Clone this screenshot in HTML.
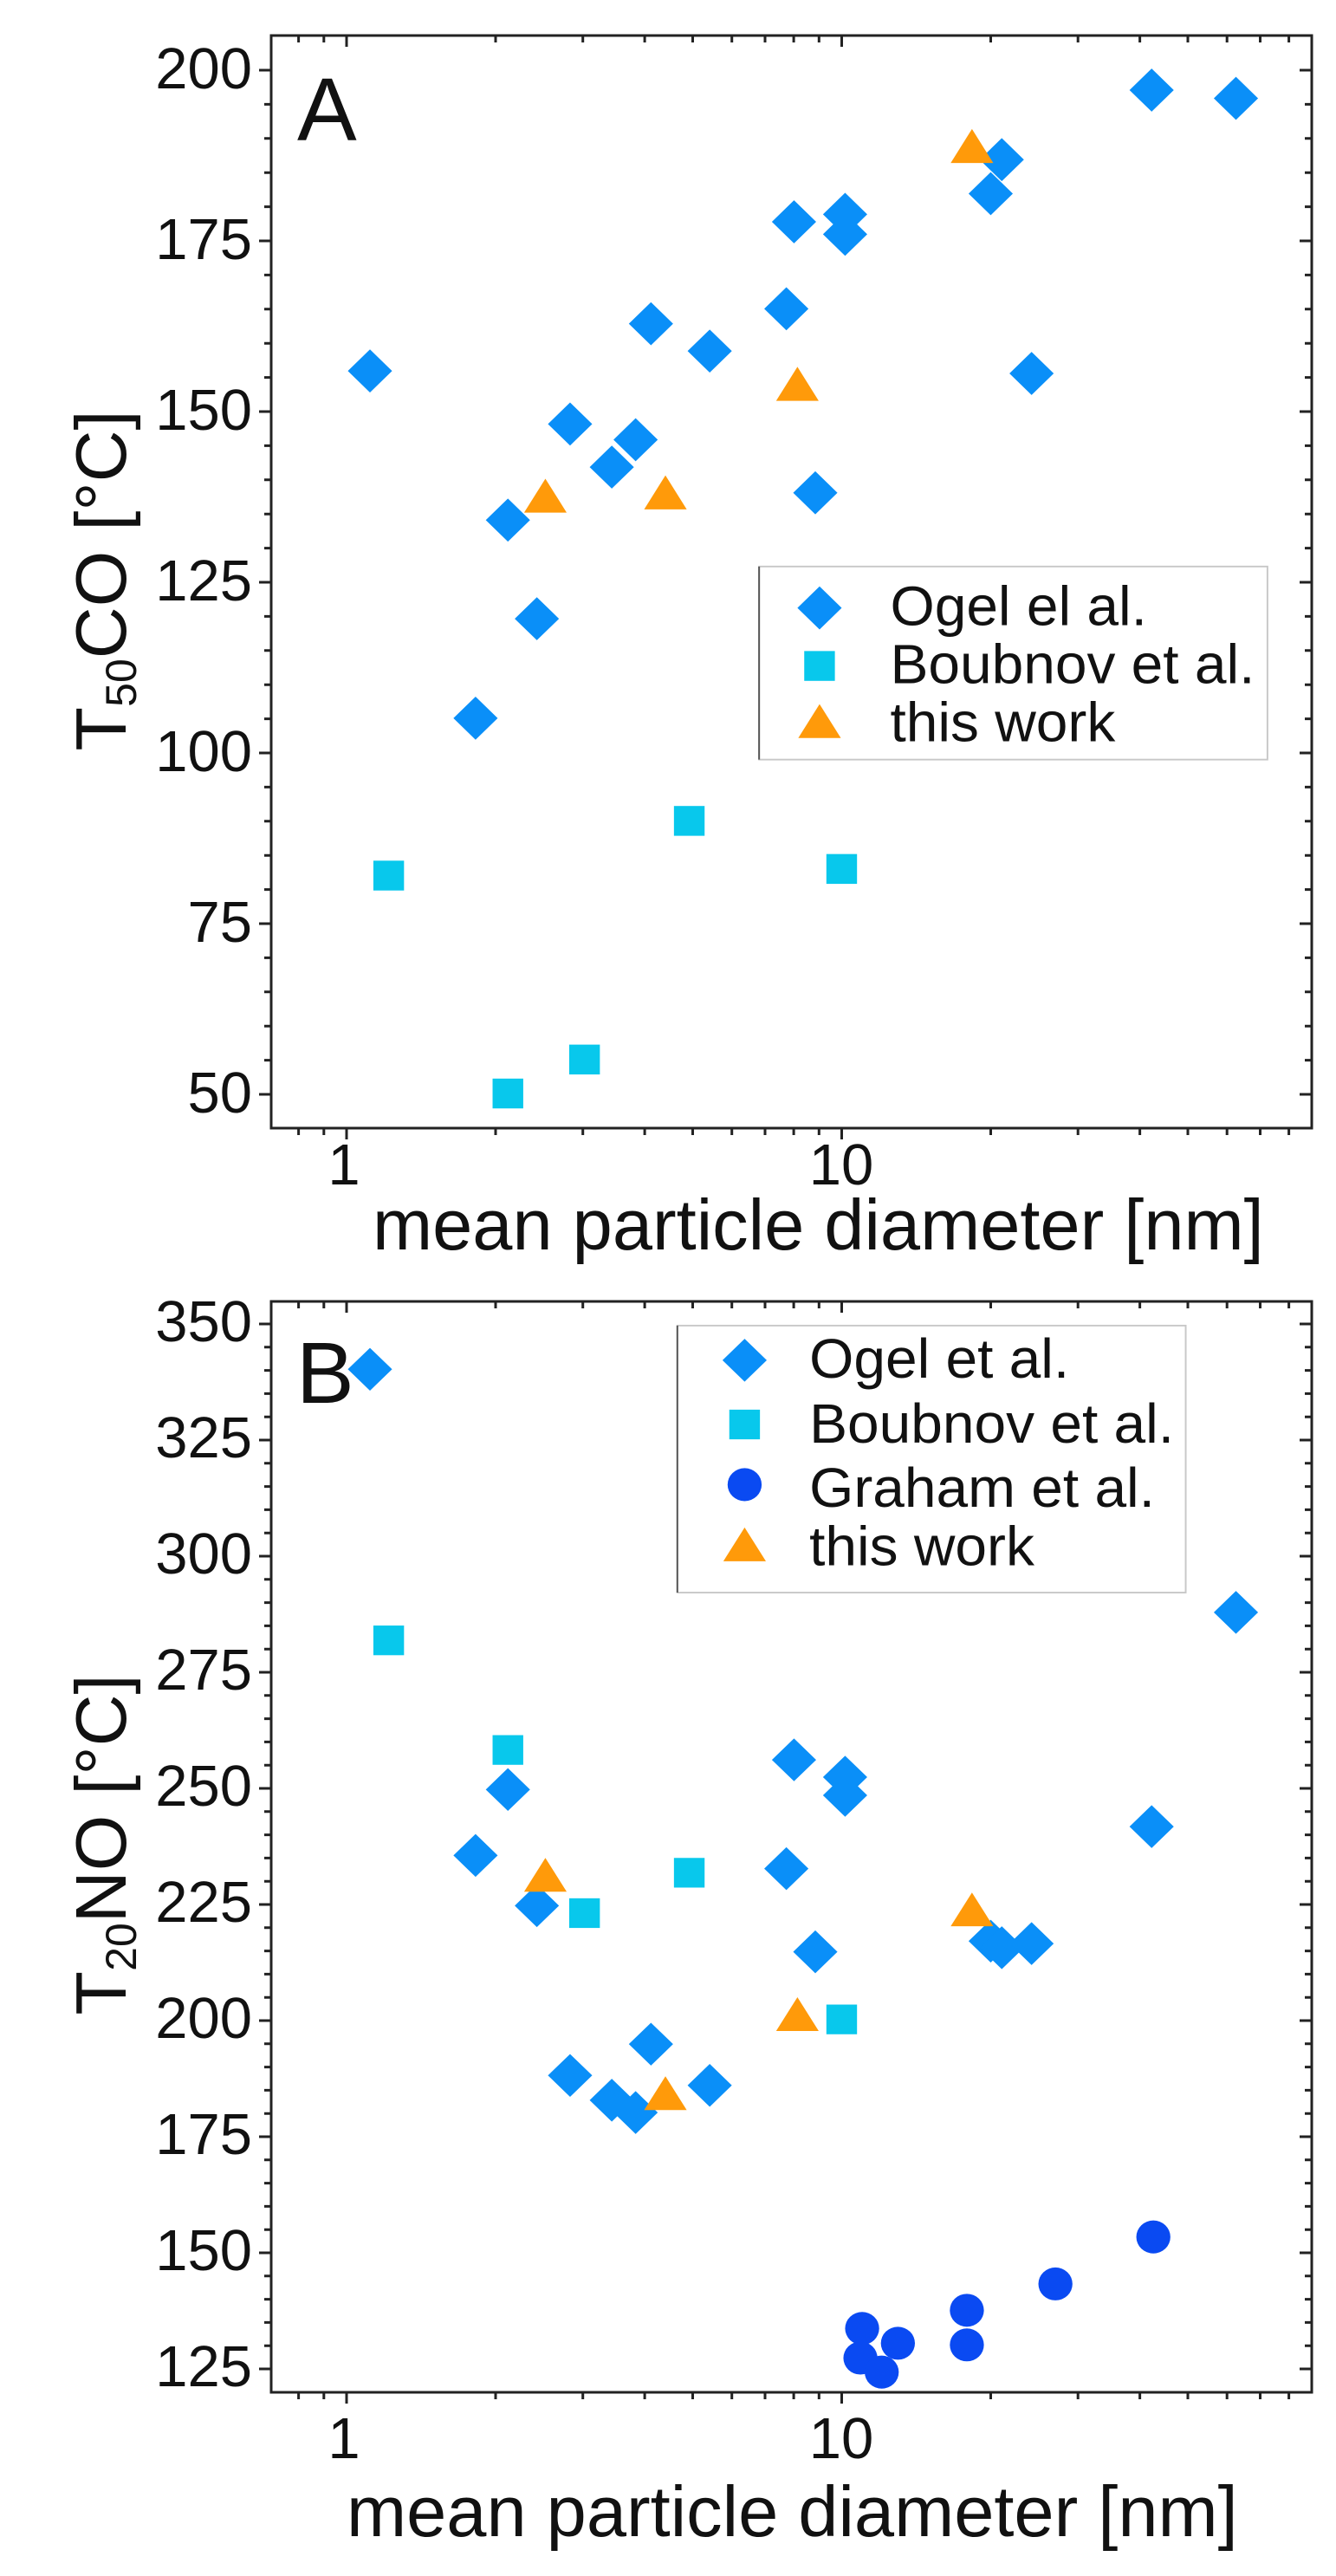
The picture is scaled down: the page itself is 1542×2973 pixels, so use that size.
<!DOCTYPE html>
<html><head><meta charset="utf-8"><style>html,body{margin:0;padding:0;background:#fff}svg{display:block}</style></head>
<body>
<svg xmlns="http://www.w3.org/2000/svg" width="1542" height="2973" viewBox="0 0 1542 2973" font-family="Liberation Sans, Arial, sans-serif">
<defs>
<path id="dm" d="M0,-26 L26,0 L0,26 L-26,0 Z" fill="#0a8ff8"/>
<rect id="sq" x="-18" y="-18" width="36" height="36" fill="#08c8ec"/>
<path id="tr" d="M0,-23 L25,18 L-25,18 Z" fill="#ff9a0a"/>
<circle id="ci" r="20" fill="#0a4af2"/>
</defs>

<!-- ===== Panel A ===== -->
<rect x="313" y="41" width="1201" height="1261" fill="none" stroke="#222" stroke-width="3"/>
<g stroke="#222" stroke-width="3" fill="none">
<path d="M313 81h-14m14 197h-14m14 197h-14m14 197h-14m14 197h-14m14 197h-14m14 197h-14"/>
<path d="M313 120.4h-8m8 39.4h-8m8 39.4h-8m8 39.4h-8m8 78.8h-8m8 39.4h-8m8 39.4h-8m8 39.4h-8m8 78.8h-8m8 39.4h-8m8 39.4h-8m8 39.4h-8m8 78.8h-8m8 39.4h-8m8 39.4h-8m8 39.4h-8m8 78.8h-8m8 39.4h-8m8 39.4h-8m8 39.4h-8m8 78.8h-8m8 39.4h-8m8 39.4h-8m8 39.4h-8"/>
<path d="M1514 81h-14m14 197h-14m14 197h-14m14 197h-14m14 197h-14m14 197h-14m14 197h-14"/>
<path d="M1514 120.4h-8m8 39.4h-8m8 39.4h-8m8 39.4h-8m8 78.8h-8m8 39.4h-8m8 39.4h-8m8 39.4h-8m8 78.8h-8m8 39.4h-8m8 39.4h-8m8 39.4h-8m8 78.8h-8m8 39.4h-8m8 39.4h-8m8 39.4h-8m8 78.8h-8m8 39.4h-8m8 39.4h-8m8 39.4h-8m8 78.8h-8m8 39.4h-8m8 39.4h-8m8 39.4h-8"/>
<path d="M400 1302v13M971.5 1302v13M400 41v13M971.5 41v13"/>
<path d="M344.6 1302v8M373.8 1302v8M572 1302v8M672.7 1302v8M744.1 1302v8M799.5 1302v8M844.7 1302v8M883 1302v8M916.1 1302v8M945.3 1302v8M1143.5 1302v8M1244.2 1302v8M1315.6 1302v8M1371 1302v8M1416.2 1302v8M1454.5 1302v8M1487.6 1302v8"/>
<path d="M344.6 41v8M373.8 41v8M572 41v8M672.7 41v8M744.1 41v8M799.5 41v8M844.7 41v8M883 41v8M916.1 41v8M945.3 41v8M1143.5 41v8M1244.2 41v8M1315.6 41v8M1371 41v8M1416.2 41v8M1454.5 41v8M1487.6 41v8"/>
</g>
<g font-size="67" text-anchor="end" fill="#111">
<text x="291" y="102">200</text><text x="291" y="299">175</text><text x="291" y="496">150</text><text x="291" y="693">125</text><text x="291" y="890">100</text><text x="291" y="1087">75</text><text x="291" y="1284">50</text>
</g>
<g font-size="67" text-anchor="middle" fill="#111">
<text x="397" y="1367">1</text><text x="971" y="1367">10</text>
</g>
<text x="430" y="1442" font-size="83" fill="#111">mean particle diameter [nm]</text>
<text transform="translate(145,670) rotate(-90)" text-anchor="middle" font-size="83" fill="#111">T<tspan font-size="50" dy="12">50</tspan><tspan dy="-12">CO [°C]</tspan></text>
<text x="343" y="162" font-size="103" fill="#111">A</text>

<g transform="matrix(0.9828,0,0,0.9563,2.44,0.67)">
<use href="#dm" x="432" y="447"/><use href="#dm" x="556" y="866"/><use href="#dm" x="594" y="627"/><use href="#dm" x="628" y="746"/><use href="#dm" x="667" y="511"/><use href="#dm" x="716" y="563"/><use href="#dm" x="744" y="530"/><use href="#dm" x="762" y="390"/><use href="#dm" x="831" y="423"/><use href="#dm" x="921" y="372"/><use href="#dm" x="930" y="267"/><use href="#dm" x="955" y="594"/><use href="#dm" x="990" y="258"/><use href="#dm" x="990" y="282"/><use href="#dm" x="1161" y="233"/><use href="#dm" x="1174" y="192"/><use href="#dm" x="1209" y="450"/><use href="#dm" x="1350" y="108"/><use href="#dm" x="1449" y="118"/>
<use href="#sq" x="454" y="1056"/><use href="#sq" x="594" y="1319"/><use href="#sq" x="684" y="1278"/><use href="#sq" x="807" y="990"/><use href="#sq" x="986" y="1048"/>
<use href="#tr" x="638" y="600"/><use href="#tr" x="779" y="596"/><use href="#tr" x="934" y="465"/><use href="#tr" x="1139" y="178"/>
<!-- legend -->
<rect x="889" y="683" width="597" height="233" fill="#fff" stroke="#c8c8c8" stroke-width="2"/>
<line x1="889" y1="683" x2="889" y2="916" stroke="#555" stroke-width="2"/>
<use href="#dm" x="960" y="733"/><use href="#sq" x="960" y="803"/><use href="#tr" x="960" y="872"/>
<g font-size="67" fill="#111"><text x="1043" y="754">Ogel el al.</text><text x="1043" y="824">Boubnov et al.</text><text x="1043" y="894">this work</text></g>
</g>

<!-- ===== Panel B ===== -->
<rect x="313" y="1502" width="1201" height="1259" fill="none" stroke="#222" stroke-width="3"/>
<g stroke="#222" stroke-width="3" fill="none">
<path d="M313 1528h-14m14 134h-14m14 134h-14m14 134h-14m14 134h-14m14 134h-14m14 134h-14m14 134h-14m14 134h-14m14 134h-14"/>
<path d="M313 1554.8h-8m8 26.8h-8m8 26.8h-8m8 26.8h-8m8 53.6h-8m8 26.8h-8m8 26.8h-8m8 26.8h-8m8 53.6h-8m8 26.8h-8m8 26.8h-8m8 26.8h-8m8 53.6h-8m8 26.8h-8m8 26.8h-8m8 26.8h-8m8 53.6h-8m8 26.8h-8m8 26.8h-8m8 26.8h-8m8 53.6h-8m8 26.8h-8m8 26.8h-8m8 26.8h-8m8 53.6h-8m8 26.8h-8m8 26.8h-8m8 26.8h-8m8 53.6h-8m8 26.8h-8m8 26.8h-8m8 26.8h-8m8 53.6h-8m8 26.8h-8m8 26.8h-8m8 26.8h-8"/>
<path d="M1514 1528h-14m14 134h-14m14 134h-14m14 134h-14m14 134h-14m14 134h-14m14 134h-14m14 134h-14m14 134h-14m14 134h-14"/>
<path d="M1514 1554.8h-8m8 26.8h-8m8 26.8h-8m8 26.8h-8m8 53.6h-8m8 26.8h-8m8 26.8h-8m8 26.8h-8m8 53.6h-8m8 26.8h-8m8 26.8h-8m8 26.8h-8m8 53.6h-8m8 26.8h-8m8 26.8h-8m8 26.8h-8m8 53.6h-8m8 26.8h-8m8 26.8h-8m8 26.8h-8m8 53.6h-8m8 26.8h-8m8 26.8h-8m8 26.8h-8m8 53.6h-8m8 26.8h-8m8 26.8h-8m8 26.8h-8m8 53.6h-8m8 26.8h-8m8 26.8h-8m8 26.8h-8m8 53.6h-8m8 26.8h-8m8 26.8h-8m8 26.8h-8"/>
<path d="M400 2761v13M971.5 2761v13M400 1502v13M971.5 1502v13"/>
<path d="M344.6 2761v8M373.8 2761v8M572 2761v8M672.7 2761v8M744.1 2761v8M799.5 2761v8M844.7 2761v8M883 2761v8M916.1 2761v8M945.3 2761v8M1143.5 2761v8M1244.2 2761v8M1315.6 2761v8M1371 2761v8M1416.2 2761v8M1454.5 2761v8M1487.6 2761v8"/>
<path d="M344.6 1502v8M373.8 1502v8M572 1502v8M672.7 1502v8M744.1 1502v8M799.5 1502v8M844.7 1502v8M883 1502v8M916.1 1502v8M945.3 1502v8M1143.5 1502v8M1244.2 1502v8M1315.6 1502v8M1371 1502v8M1416.2 1502v8M1454.5 1502v8M1487.6 1502v8"/>
</g>
<g font-size="67" text-anchor="end" fill="#111">
<text x="291" y="1548">350</text><text x="291" y="1682">325</text><text x="291" y="1816">300</text><text x="291" y="1950">275</text><text x="291" y="2084">250</text><text x="291" y="2218">225</text><text x="291" y="2352">200</text><text x="291" y="2486">175</text><text x="291" y="2620">150</text><text x="291" y="2754">125</text>
</g>
<g font-size="67" text-anchor="middle" fill="#111">
<text x="397" y="2837">1</text><text x="971" y="2837">10</text>
</g>
<text x="400" y="2927" font-size="83" fill="#111">mean particle diameter [nm]</text>
<text transform="translate(145,2129) rotate(-90)" text-anchor="middle" font-size="83" fill="#111">T<tspan font-size="50" dy="12">20</tspan><tspan dy="-12">NO [°C]</tspan></text>
<text x="342" y="1619" font-size="100" fill="#111">B</text>

<g transform="matrix(0.9828,0,0,0.951,2.44,1482.35)">
<use href="#dm" x="432" y="103"/><use href="#dm" x="556" y="693"/><use href="#dm" x="594" y="613"/><use href="#dm" x="628" y="754"/><use href="#dm" x="667" y="960"/><use href="#dm" x="716" y="990"/><use href="#dm" x="744" y="1005"/><use href="#dm" x="762" y="922"/><use href="#dm" x="831" y="972"/><use href="#dm" x="921" y="709"/><use href="#dm" x="930" y="577"/><use href="#dm" x="955" y="810"/><use href="#dm" x="990" y="598"/><use href="#dm" x="990" y="620"/><use href="#dm" x="1161" y="797"/><use href="#dm" x="1174" y="805"/><use href="#dm" x="1209" y="800"/><use href="#dm" x="1350" y="658"/><use href="#dm" x="1449" y="398"/>
<use href="#sq" x="454" y="432"/><use href="#sq" x="594" y="565"/><use href="#sq" x="684" y="763"/><use href="#sq" x="807" y="714"/><use href="#sq" x="986" y="892"/>
<use href="#ci" x="1010" y="1267"/><use href="#ci" x="1008" y="1303"/><use href="#ci" x="1033" y="1320"/><use href="#ci" x="1052" y="1285"/><use href="#ci" x="1133" y="1245"/><use href="#ci" x="1133" y="1287"/><use href="#ci" x="1237" y="1213"/><use href="#ci" x="1352" y="1156"/>
<use href="#tr" x="638" y="719"/><use href="#tr" x="779" y="984"/><use href="#tr" x="934" y="888"/><use href="#tr" x="1139" y="761"/>
<!-- legend -->
<rect x="793" y="50" width="597" height="324" fill="#fff" stroke="#c8c8c8" stroke-width="2"/>
<line x1="793" y1="50" x2="793" y2="374" stroke="#555" stroke-width="2"/>
<use href="#dm" x="872" y="92"/><use href="#sq" x="872" y="170"/><use href="#ci" x="872" y="243"/><use href="#tr" x="872" y="318"/>
<g font-size="67" fill="#111"><text x="948" y="113">Ogel et al.</text><text x="948" y="192">Boubnov et al.</text><text x="948" y="270">Graham et al.</text><text x="948" y="341">this work</text></g>
</g>
</svg>
</body></html>
